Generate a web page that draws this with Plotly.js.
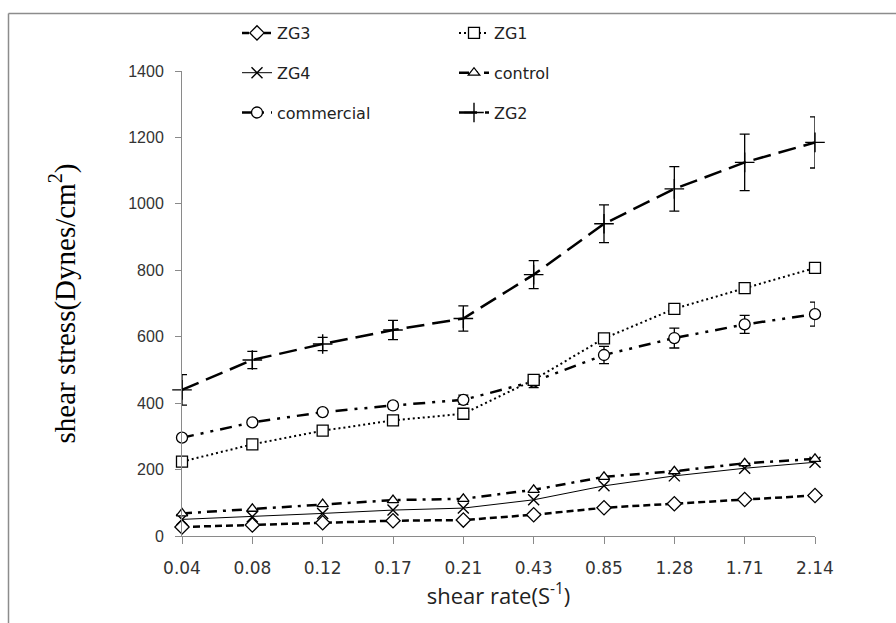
<!DOCTYPE html>
<html>
<head>
<meta charset="utf-8">
<script src="https://cdn.plot.ly/plotly-3.0.1.min.js"></script>
<style>html,body{margin:0;padding:0;background:#fff;}#chart{width:896px;height:623px;}</style>
</head>
<body>
<div id="chart"></div>
<script>
// Shear rate categories (S^-1)
const shearRate = ['0.04','0.08','0.12','0.17','0.21','0.43','0.85','1.28','1.71','2.14'];

// Shear stress (Dynes/cm^2) per sample
const zg3 = [27, 33, 40, 46, 48, 64, 85, 97, 110, 122];
const zg1 = [224, 276, 317, 348, 368, 470, 595, 684, 746, 807];
const zg4 = [50, 58, 68, 78, 84, 109, 151, 181, 204, 222];
const control = [68, 82, 96, 108, 112, 139, 178, 195, 219, 232];
const commercial = [296, 342, 373, 393, 410, 465, 545, 596, 637, 668];
const zg2 = [440, 530, 578, 620, 655, 787, 940, 1045, 1125, 1185];

// Error bars (± standard deviation)
const commercialErr = [6, 8, 8, 10, 14, 18, 26, 30, 27, 36];
const zg2Err = [46, 26, 20, 29, 38, 42, 57, 67, 85, 77];

const black = '#000000';
function filled(symbol, size) {
  return {symbol: symbol, size: size, color: '#ffffff', line: {color: black, width: 1.3}};
}
function thin(symbol, size) {
  return {symbol: symbol, size: size, color: black, line: {color: black, width: 1.4}};
}

const traces = [
  {name: 'ZG3', x: shearRate, y: zg3, legend: 'legend', legendgroup: 'g1',
   mode: 'lines+markers', line: {color: black, width: 2.5, dash: '7px,4px'},
   marker: filled('diamond', 11), cliponaxis: false},
  {name: 'ZG4', x: shearRate, y: zg4, legend: 'legend', legendgroup: 'g2',
   mode: 'lines+markers', line: {color: black, width: 1},
   marker: thin('x-thin', 11), cliponaxis: false},
  {name: 'commercial', x: shearRate, y: commercial, legend: 'legend', legendgroup: 'g3',
   mode: 'lines+markers', line: {color: black, width: 2.5, dash: '12px,7px,3px,7px,3px,7px'},
   marker: filled('circle', 11), cliponaxis: false,
   error_y: {type: 'data', array: commercialErr, visible: true, color: black, thickness: 1.3, width: 5}},
  {name: 'ZG1', x: shearRate, y: zg1, legend: 'legend2', legendgroup: 'g4',
   mode: 'lines+markers', line: {color: black, width: 2, dash: '2px,3px'},
   marker: filled('square', 11), cliponaxis: false},
  {name: 'control', x: shearRate, y: control, legend: 'legend2', legendgroup: 'g5',
   mode: 'lines+markers', line: {color: black, width: 2.5, dash: '10px,6px,3px,6px'},
   marker: filled('triangle-up', 10), cliponaxis: false},
  {name: 'ZG2', x: shearRate, y: zg2, legend: 'legend2', legendgroup: 'g6',
   mode: 'lines+markers', line: {color: black, width: 2.5, dash: '18px,8px'},
   marker: thin('cross-thin', 14), cliponaxis: false,
   error_y: {type: 'data', array: zg2Err, visible: true, color: black, thickness: 1.3, width: 5}}
];

const legendFont = {family: 'DejaVu Sans', size: 16, color: '#222'};
const layout = {
  width: 896, height: 623,
  margin: {l: 182, r: 81, t: 71, b: 87, autoexpand: false},
  paper_bgcolor: '#fff', plot_bgcolor: '#fff',
  showlegend: true,
  legend: {x: (237 - 182) / 633, xanchor: 'left', y: (536 - 16) / 465, yanchor: 'top',
           orientation: 'v', tracegroupgap: 16, font: legendFont, bgcolor: 'rgba(0,0,0,0)'},
  legend2: {x: (454 - 182) / 633, xanchor: 'left', y: (536 - 16) / 465, yanchor: 'top',
            orientation: 'v', tracegroupgap: 16, font: legendFont, bgcolor: 'rgba(0,0,0,0)'},
  xaxis: {
    type: 'category', range: [0, 9], showgrid: false, zeroline: false,
    showline: true, linecolor: '#8a8a8a', linewidth: 1,
    ticks: 'outside', ticklen: 7, tickcolor: '#8a8a8a', tickwidth: 1,
    ticklabelstandoff: 10,
    tickfont: {family: 'DejaVu Sans', size: 17, color: '#333'},
    title: {text: 'shear rate(S<sup>-1</sup>)', font: {family: 'Open Sans', size: 22, color: '#222'}, standoff: 10}
  },
  yaxis: {
    range: [0, 1400], dtick: 200, showgrid: false, zeroline: false,
    showline: true, linecolor: '#8a8a8a', linewidth: 1,
    ticks: 'outside', ticklen: 6, tickcolor: '#8a8a8a', tickwidth: 1,
    ticklabelstandoff: 8,
    tickfont: {family: 'Liberation Sans', size: 16, color: '#333'},
    title: {text: 'shear stress(Dynes/cm<sup>2</sup>)', font: {family: 'Liberation Serif', size: 29, color: '#000'}, standoff: 44}
  },
  shapes: [
    {type: 'line', xref: 'paper', yref: 'paper', x0: (8.5 - 182) / 633, x1: (8.5 - 182) / 633,
     y0: (536 - 13.5) / 465, y1: (536 - 640) / 465, line: {color: '#8c8c8c', width: 1.5}},
    {type: 'line', xref: 'paper', yref: 'paper', x0: (8.5 - 182) / 633, x1: (910 - 182) / 633,
     y0: (536 - 13.5) / 465, y1: (536 - 13.5) / 465, line: {color: '#8c8c8c', width: 1.5}}
  ]
};

Plotly.newPlot('chart', traces, layout, {staticPlot: true, displayModeBar: false});
</script>
</body>
</html>
